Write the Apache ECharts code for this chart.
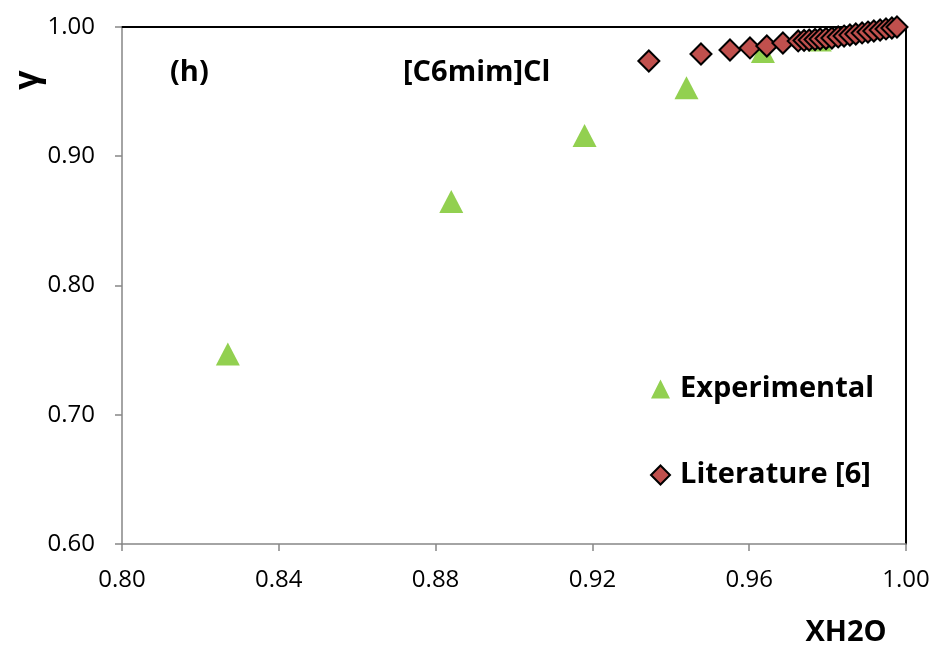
<!DOCTYPE html>
<html>
<head>
<meta charset="utf-8">
<script src="https://cdn.jsdelivr.net/npm/echarts@6/dist/echarts.min.js"></script>
<style>
  html, body { margin: 0; padding: 0; background: #ffffff; }
  #chart { width: 939px; height: 647px; }
</style>
</head>
<body>
<div id="chart"></div>
<script>
// Activity coefficient of water vs. water mole fraction, [C6mim]Cl
const expX = [0.827, 0.884, 0.918, 0.944, 0.9635, 0.978];
const expY = [0.747, 0.865, 0.916, 0.953, 0.981, 0.990];

const litX = [0.9344, 0.9477, 0.9551, 0.9602, 0.9645, 0.9686,
              0.9725, 0.9740, 0.9753, 0.9768, 0.9781, 0.9796,
              0.9811, 0.9827, 0.9842, 0.9857, 0.9872, 0.9888,
              0.9903, 0.9918, 0.9934, 0.9949, 0.9964, 0.9977];
const litY = [0.9737, 0.9791, 0.9822, 0.9838, 0.9853, 0.9876,
              0.9892, 0.9896, 0.9899, 0.9903, 0.9907, 0.9911,
              0.9915, 0.9923, 0.9930, 0.9938, 0.9946, 0.9954,
              0.9961, 0.9969, 0.9977, 0.9985, 0.9992, 1.0000];

const xTicks = [0.80, 0.84, 0.88, 0.92, 0.96, 1.00];
const yTicks = [0.60, 0.70, 0.80, 0.90, 1.00];

const FONT = '"Open Sans", Lato, sans-serif';
const pairs = (xs, ys) => xs.map((x, i) => [x, ys[i]]);

const chart = echarts.init(document.getElementById('chart'), null, { renderer: 'canvas' });

chart.setOption({
  backgroundColor: '#ffffff',
  animation: false,
  grid: { left: 122, right: 33, top: 27, bottom: 103, containLabel: false },
  xAxis: [{
    type: 'value',
    position: 'bottom',
    min: xTicks[0], max: xTicks[xTicks.length - 1], interval: 0.04,
    axisLine: { show: true, lineStyle: { color: '#868686', width: 1.5 } },
    axisTick: { show: true, inside: false, length: 7, lineStyle: { color: '#868686', width: 1.5 } },
    splitLine: { show: false },
    axisLabel: { color: '#000', fontSize: 24, fontFamily: FONT, margin: 24,
                 formatter: v => v.toFixed(2) }
  }, {
    type: 'value',
    position: 'top',
    min: xTicks[0], max: xTicks[xTicks.length - 1],
    axisLine: { show: true, lineStyle: { color: '#000', width: 2 } },
    axisTick: { show: false }, axisLabel: { show: false }, splitLine: { show: false }
  }],
  yAxis: [{
    type: 'value',
    position: 'left',
    min: yTicks[0], max: yTicks[yTicks.length - 1], interval: 0.1,
    axisLine: { show: true, lineStyle: { color: '#868686', width: 1.5 } },
    axisTick: { show: true, inside: false, length: 7, lineStyle: { color: '#868686', width: 1.5 } },
    splitLine: { show: false },
    axisLabel: { color: '#000', fontSize: 24, fontFamily: FONT, margin: 27,
                 formatter: v => v.toFixed(2) }
  }, {
    type: 'value',
    position: 'right',
    min: yTicks[0], max: yTicks[yTicks.length - 1],
    axisLine: { show: true, lineStyle: { color: '#000', width: 2 } },
    axisTick: { show: false }, axisLabel: { show: false }, splitLine: { show: false }
  }],
  legend: {
    orient: 'vertical',
    left: 645, top: 369,
    itemGap: 56,
    itemWidth: 19, itemHeight: 19,
    textStyle: { color: '#000', fontSize: 29, fontWeight: 'bold', fontFamily: FONT,
                 lineHeight: 30, padding: [0, 0, 0, 5] },
    data: ['Experimental', 'Literature [6]']
  },
  series: [{
    name: 'Experimental',
    type: 'scatter',
    xAxisIndex: 0, yAxisIndex: 0,
    clip: false,
    symbol: 'triangle',
    symbolSize: [24, 23],
    itemStyle: { color: '#92D050', opacity: 1 },
    data: pairs(expX, expY),
    z: 2
  }, {
    name: 'Literature [6]',
    type: 'scatter',
    xAxisIndex: 0, yAxisIndex: 0,
    clip: false,
    symbol: 'diamond',
    symbolSize: 21,
    itemStyle: { color: '#C0504D', borderColor: '#000', borderWidth: 2, opacity: 1 },
    data: pairs(litX, litY),
    z: 3
  }],
  graphic: [{
    type: 'text', x: 28, y: 80, rotation: Math.PI / 2,
    style: { text: 'γ', fontSize: 34, fontWeight: 'bold', fontFamily: FONT, fill: '#000',
             align: 'center', verticalAlign: 'middle' }
  }, {
    type: 'text', x: 170, y: 73,
    style: { text: '(h)', fontSize: 29, fontWeight: 'bold', fontFamily: FONT, fill: '#000',
             align: 'left', verticalAlign: 'middle' }
  }, {
    type: 'text', x: 403, y: 73,
    style: { text: '[C6mim]Cl', fontSize: 29, fontWeight: 'bold', fontFamily: FONT, fill: '#000',
             align: 'left', verticalAlign: 'middle' }
  }, {
    type: 'text', x: 846, y: 633,
    style: { text: 'XH2O', fontSize: 29, fontWeight: 'bold', fontFamily: FONT, fill: '#000',
             align: 'center', verticalAlign: 'middle' }
  }]
});
</script>
</body>
</html>
